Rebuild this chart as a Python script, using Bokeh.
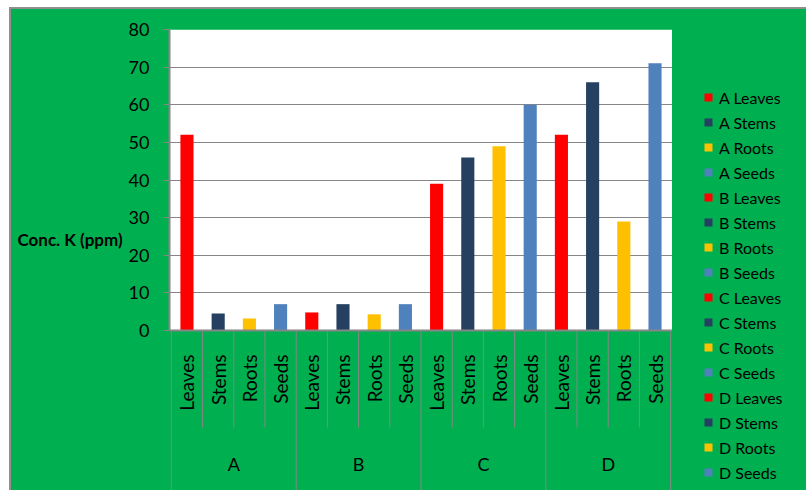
import math

from bokeh.core.properties import value
from bokeh.embed import file_html
from bokeh.layouts import row
from bokeh.models import (BoxAnnotation, ColumnDataSource, FactorRange, FixedTicker,
                          Label, Legend, LegendItem, Range1d, Span)
from bokeh.plotting import figure
from bokeh.resources import INLINE

# --- data -----------------------------------------------------------------
sites = ["A", "B", "C", "D"]
parts = ["Leaves", "Stems", "Roots", "Seeds"]
part_colors = ["#FF0000", "#254061", "#FFC000", "#4F81BD"]

conc_A = [52, 4.5, 3.2, 7]
conc_B = [4.8, 7, 4.3, 7]
conc_C = [39, 46, 49, 60]
conc_D = [52, 66, 29, 71]

y_ticks = [0, 10, 20, 30, 40, 50, 60, 70, 80]
y_label = "Conc. K (ppm)"

# --- styling --------------------------------------------------------------
GREEN = "#00B050"
GRID = "#868686"
FONT = "Lato"

H = 481
TITLE_W, MAIN_W, LEGEND_W = 114, 547, 134
AXIS_W, TOP = 43, 20
PLOT_H = 301                       # pixel height of the 0..80 value band
FRAME_H = H - TOP
y_max = y_ticks[-1]
y_floor = y_max - FRAME_H * y_max / PLOT_H   # frame runs down into the axis band
sub_floor = -97 * y_max / PLOT_H            # end of the short sub-category dividers

factors = [(s, part) for s in sites for part in parts]
values = conc_A + conc_B + conc_C + conc_D
bars = ColumnDataSource(dict(
    x=factors,
    top=values,
    color=part_colors * len(sites),
    part=[part for _, part in factors],
    label=[f"{s} {part}" for s, part in factors],
))

# a hair of padding keeps the outermost divider inside the frame
x_range = FactorRange(*factors, range_padding=0.06, range_padding_units="absolute",
                      factor_padding=0, group_padding=0)
y_range = Range1d(y_floor, y_max)


def side_panel(width):
    f = figure(width=width, height=H, x_range=x_range, y_range=y_range,
               output_backend="svg", toolbar_location=None, min_border=0,
               x_axis_location=None, y_axis_location=None,
               background_fill_color=GREEN, border_fill_color=GREEN, outline_line_color=None)
    f.grid.visible = False
    return f


# --- main bar chart -------------------------------------------------------
p = figure(
    x_range=x_range, y_range=y_range,
    width=MAIN_W, height=H,
    output_backend="svg", toolbar_location=None,
    x_axis_location=None,
    min_border_left=AXIS_W, min_border_top=TOP, min_border_right=0, min_border_bottom=0,
    background_fill_color=GREEN, border_fill_color=GREEN, outline_line_color=None,
)

# white value area behind the bars
p.add_layout(BoxAnnotation(bottom=0, top=y_max, fill_color="white", fill_alpha=1,
                           line_color=None, level="image"))

ax = p.yaxis[0]
ax.ticker = FixedTicker(ticks=y_ticks)
ax.bounds = (0, y_max)
ax.axis_line_color = GRID
ax.axis_line_width = 2
ax.major_tick_line_color = GRID
ax.major_tick_line_width = 1
ax.major_tick_out = 6
ax.major_tick_in = 0
ax.minor_tick_line_color = None
ax.major_label_standoff = 14
ax.major_label_text_font = FONT
ax.major_label_text_font_size = "18px"
ax.major_label_text_color = "black"

p.xgrid.visible = False
p.ygrid.grid_line_color = GRID
p.ygrid.grid_line_width = 1

# category axis baseline
p.add_layout(Span(location=0, dimension="width", line_color=GRID, line_width=2))

p.vbar(x="x", top="top", width=0.42, source=bars, fill_color="color", line_color=None)

# category dividers below the axis
div_x, div_y1 = [], []
for s in sites:
    for i, part in enumerate(parts):
        div_x.append((s, part, -0.5))
        div_y1.append(y_floor if i == 0 else sub_floor)
div_x.append((sites[-1], parts[-1], 0.5))
div_y1.append(y_floor)
p.segment(x0=div_x, y0=[0] * len(div_x), x1=div_x, y1=div_y1,
          line_color=GRID, line_width=1)

# part labels (rotated) and site labels
p.text(x="x", y=0, text="part", source=bars, angle=math.pi / 2,
       text_align="right", text_baseline="middle", y_offset=24,
       text_font=value(FONT), text_font_size="19px", text_color="black")
p.text(x=sites, y=[0] * len(sites), text=sites, text_align="center",
       text_baseline="middle", y_offset=133,
       text_font=value(FONT), text_font_size="18px", text_color="black")

# --- y-axis title, set horizontally to the left of the axis ---------------
tp = side_panel(TITLE_W)
tp.add_layout(Label(x=6, y=251, x_units="screen", y_units="screen", text=y_label,
                    text_align="left", text_baseline="middle",
                    text_font=FONT, text_font_size="17px", text_font_style="bold",
                    text_color="black"))

# --- legend, one entry per bar --------------------------------------------
lp = side_panel(LEGEND_W)
key = lp.vbar(x="x", top="top", width=0.42, source=bars, fill_color="color",
              line_color=None, visible=False)
items = [LegendItem(label=lab, renderers=[key], index=i)
         for i, lab in enumerate(bars.data["label"])]
lp.add_layout(Legend(
    items=items, location=(31, 8), margin=0, padding=0, spacing=5,
    glyph_width=10, glyph_height=10, label_height=20, label_standoff=6,
    label_text_font=FONT, label_text_font_size="16px", label_text_color="black",
    background_fill_alpha=0, border_line_color=None,
    inactive_fill_alpha=0, click_policy="none",
))

page = row(tp, p, lp, spacing=0)
page.margin = (7, 0, 0, 9)
page.styles = {"border-top": "2px solid #8f8f8f", "border-left": "2px solid #8f8f8f",
               "background-color": GREEN}

open("out.html", "w").write(file_html(page, INLINE))
